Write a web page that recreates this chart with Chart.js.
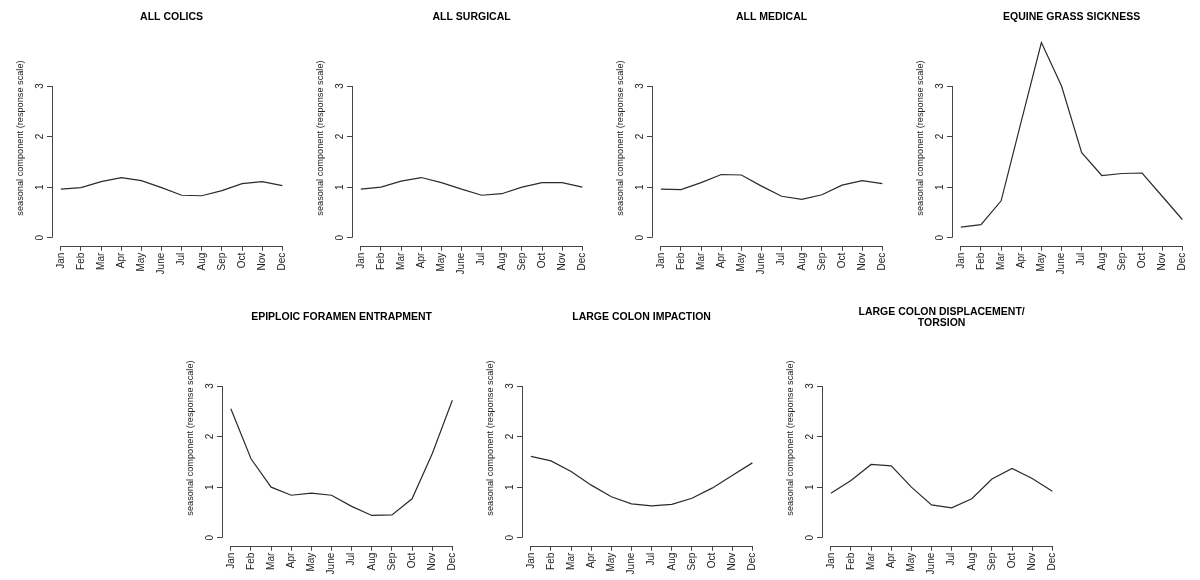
<!DOCTYPE html>
<html>
<head>
<meta charset="utf-8">
<script src="https://cdn.jsdelivr.net/npm/chart.js@4"></script>
<style>
  body { margin: 0; background: #fff; }
  #wrap { position: relative; width: 1200px; height: 580px; }
  .panel { position: absolute; width: 300px; height: 280px; }
</style>
</head>
<body>
<div id="wrap"></div>
<script>
const months = ['Jan', 'Feb', 'Mar', 'Apr', 'May', 'June', 'Jul', 'Aug', 'Sep', 'Oct', 'Nov', 'Dec'];
const yTicks = [0, 1, 2, 3];
const yTitle = 'seasonal component (response scale)';

const allColics   = [0.96, 0.99, 1.11, 1.19, 1.13, 0.99, 0.84, 0.83, 0.93, 1.07, 1.11, 1.03];
const allSurgical = [0.96, 1.00, 1.12, 1.19, 1.09, 0.96, 0.84, 0.87, 1.00, 1.09, 1.09, 1.00];
const allMedical  = [0.96, 0.95, 1.09, 1.25, 1.24, 1.02, 0.82, 0.76, 0.85, 1.04, 1.13, 1.07];
const grassSick   = [0.21, 0.26, 0.73, 2.30, 3.86, 3.00, 1.68, 1.23, 1.27, 1.28, 0.82, 0.36];
const epiploic    = [2.55, 1.56, 1.00, 0.84, 0.88, 0.84, 0.62, 0.44, 0.45, 0.77, 1.66, 2.72];
const lcImpaction = [1.61, 1.52, 1.31, 1.04, 0.81, 0.67, 0.63, 0.66, 0.78, 0.98, 1.23, 1.48];
const lcDisplace  = [0.88, 1.13, 1.45, 1.42, 1.00, 0.65, 0.59, 0.77, 1.16, 1.37, 1.17, 0.92];

const titles = [
  ['ALL COLICS'], ['ALL SURGICAL'], ['ALL MEDICAL'], ['EQUINE GRASS SICKNESS'],
  ['EPIPLOIC FORAMEN ENTRAPMENT'], ['LARGE COLON IMPACTION'],
  ['LARGE COLON DISPLACEMENT/', 'TORSION']
];
const series = [allColics, allSurgical, allMedical, grassSick, epiploic, lcImpaction, lcDisplace];

// where each panel sits on the page
const spots = [[0, 0], [300, 0], [600, 0], [900, 0], [170, 300], [470, 300], [770, 300]];

const FONT = "'Liberation Sans', Arial, sans-serif";
const AXIS = '#444';

// R style axes: the line only runs from first to last tick
const rAxes = {
  id: 'rAxes',
  afterDraw(chart) {
    const { ctx, chartArea, scales: { x, y } } = chart;
    ctx.save();
    ctx.strokeStyle = AXIS;
    ctx.lineWidth = 1;
    ctx.beginPath();
    const lx = Math.round(chartArea.left) + 0.5;
    ctx.moveTo(lx, y.getPixelForValue(yTicks[0]));
    ctx.lineTo(lx, y.getPixelForValue(yTicks[yTicks.length - 1]));
    const by = Math.round(chartArea.bottom) + 0.5;
    ctx.moveTo(x.getPixelForValue(1), by);
    ctx.lineTo(x.getPixelForValue(months.length), by);
    ctx.stroke();
    ctx.restore();
  }
};

const wrap = document.getElementById('wrap');

series.forEach((vals, i) => {
  const div = document.createElement('div');
  div.className = 'panel';
  div.style.left = spots[i][0] + 'px';
  div.style.top = spots[i][1] + 'px';
  const cv = document.createElement('canvas');
  cv.width = 300;
  cv.height = 280;
  div.appendChild(cv);
  wrap.appendChild(div);

  const twoLine = titles[i].length > 1;

  new Chart(cv.getContext('2d'), {
    type: 'line',
    data: {
      datasets: [{
        data: vals.map((v, k) => ({ x: k + 1, y: v })),
        borderColor: '#2b2b2b',
        borderWidth: 1.2,
        pointRadius: 0,
        tension: 0,
        fill: false
      }]
    },
    options: {
      responsive: false,
      animation: false,
      layout: { padding: { left: 0, right: 8.8, top: 0, bottom: 0 } },
      plugins: {
        legend: { display: false },
        tooltip: { enabled: false },
        title: {
          display: true,
          text: titles[i],
          fullSize: false,
          color: '#000',
          font: { family: FONT, size: 10.5, weight: 'bold', lineHeight: twoLine ? 1.05 : 1.2 },
          padding: twoLine ? { top: 6.5, bottom: 1.9 } : { top: 10.7, bottom: 7.1 }
        }
      },
      scales: {
        x: {
          type: 'linear',
          min: 0.56,
          max: 12.44,
          afterBuildTicks: s => { s.ticks = months.map((m, k) => ({ value: k + 1 })); },
          afterFit: s => { s.height = 34.3; },
          border: { display: false },
          grid: { drawOnChartArea: false, drawTicks: true, tickLength: 5, color: AXIS },
          ticks: {
            autoSkip: false,
            minRotation: 90,
            maxRotation: 90,
            padding: 2,
            color: '#222',
            font: { family: FONT, size: 10 },
            callback: v => months[v - 1]
          }
        },
        y: {
          type: 'linear',
          min: -0.158,
          max: 4.1,
          afterBuildTicks: s => { s.ticks = yTicks.map(v => ({ value: v })); },
          afterFit: s => { s.width = 52; },
          border: { display: false },
          grid: { drawOnChartArea: false, drawTicks: true, tickLength: 5, color: AXIS },
          title: {
            display: true,
            text: yTitle,
            color: '#222',
            font: { family: FONT, size: 9.2 },
            padding: { top: 14.5, bottom: 0 }
          },
          ticks: {
            minRotation: 90,
            maxRotation: 90,
            crossAlign: 'center',
            padding: 4.2,
            color: '#222',
            font: { family: FONT, size: 10 },
            callback: v => String(v)
          }
        }
      }
    },
    plugins: [rAxes]
  });
});
</script>
</body>
</html>
